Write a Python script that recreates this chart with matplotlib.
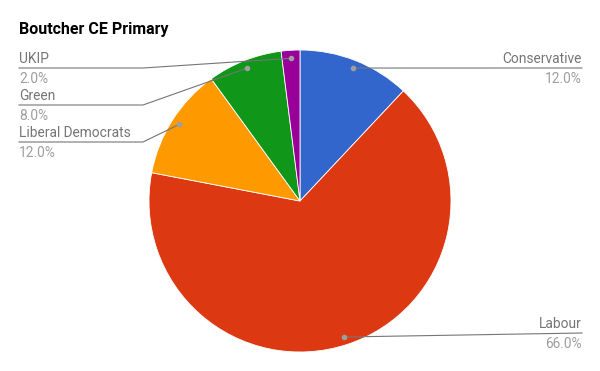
import numpy as np
import matplotlib.pyplot as plt

plt.rcParams['font.family'] = ['Roboto', 'DejaVu Sans']

title = "Boutcher CE Primary"
parties = ["Conservative", "Labour", "Liberal Democrats", "Green", "UKIP"]
shares = [12.0, 66.0, 12.0, 8.0, 2.0]
colors = ["#3366cc", "#dc3912", "#ff9900", "#109618", "#990099"]

W, H = 600, 371
cx, cy, R = 300, 201, 151  # pixel centre / radius

# label layout: side, y of the leader line (pixels from top)
label_side = {"Conservative": "right", "Labour": "right",
              "Liberal Democrats": "left", "Green": "left", "UKIP": "left"}
label_line_y = {"Conservative": 68, "Labour": 333,
                "Liberal Democrats": 142, "Green": 105, "UKIP": 68}


def Y(py):
    return H - py


fig = plt.figure(figsize=(6, 3.71), dpi=100)
ax = fig.add_axes([0, 0, 1, 1])

ax.pie(shares, colors=colors, startangle=90, counterclock=False,
       center=(cx, Y(cy)), radius=R, frame=True,
       wedgeprops=dict(edgecolor='white', linewidth=0.6))
ax.set_xlim(0, W)
ax.set_ylim(0, H)
ax.set_aspect('equal')
ax.axis('off')

# leader lines and labels
total = sum(shares)
start = 0.0
for name, val in zip(parties, shares):
    mid = (start + val / 2) / total * 360.0
    start += val
    dx = 0.947 * R * np.sin(np.radians(mid))
    dy = 0.947 * R * np.cos(np.radians(mid))
    px, py = cx + dx, cy - dy
    ly = label_line_y[name]
    ax.plot([px], [Y(py)], 'o', color='#9e9e9e', ms=3, zorder=5)
    if label_side[name] == "right":
        ax.plot([px, 582], [Y(py), Y(ly)], color='#757575', lw=0.8, zorder=4)
        tx, ha = 582, 'right'
    else:
        ax.plot([px, 143, 19], [Y(py), Y(ly), Y(ly)], color='#757575', lw=0.8, zorder=4)
        tx, ha = 19, 'left'
    ax.text(tx, Y(ly - 5), name, ha=ha, va='baseline', fontsize=9.9, color='#757575')
    ax.text(tx, Y(ly + 15), "%.1f%%" % val, ha=ha, va='baseline', fontsize=9.9, color='#9e9e9e')

ax.text(19, Y(34), title, ha='left', va='baseline', fontsize=11.5,
        fontweight='bold', color='#000000')

fig.savefig("out.png", dpi=100)
